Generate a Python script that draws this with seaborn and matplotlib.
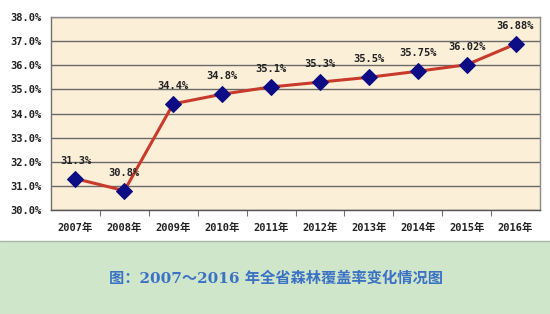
import matplotlib
matplotlib.use("Agg")
import matplotlib.pyplot as plt
import seaborn as sns
import pandas as pd
from matplotlib.patches import Rectangle

years = ["2007年", "2008年", "2009年", "2010年", "2011年",
         "2012年", "2013年", "2014年", "2015年", "2016年"]
coverage = [31.3, 30.8, 34.4, 34.8, 35.1, 35.3, 35.5, 35.75, 36.02, 36.88]
labels = ["31.3%", "30.8%", "34.4%", "34.8%", "35.1%",
          "35.3%", "35.5%", "35.75%", "36.02%", "36.88%"]
yticks = [30, 31, 32, 33, 34, 35, 36, 37, 38]
title = "图：2007～2016 年全省森林覆盖率变化情况图"

sns.set_theme(style="white")
plt.rcParams['font.family'] = ['DejaVu Sans Mono', 'Noto Sans CJK SC']

df = pd.DataFrame({"year": years, "coverage": coverage})

fig = plt.figure(figsize=(5.5, 3.14), dpi=100)
fig.patch.set_facecolor("white")
# green band at bottom
fig.patches.append(Rectangle((0, 0), 1, 73 / 314, transform=fig.transFigure,
                             facecolor="#cfe6cb", edgecolor="none", zorder=0))
fig.lines.append(plt.Line2D([0, 1], [73 / 314, 73 / 314], transform=fig.transFigure,
                            color="#a8b8a8", lw=1.0))

ax = fig.add_axes([51 / 550, 1 - 210 / 314, 489 / 550, 193 / 314])
ax.set_facecolor("#fcefd8")

sns.lineplot(data=df, x="year", y="coverage", ax=ax, sort=False,
             color="#c83a2c", lw=2.2, marker="D", markersize=8,
             markerfacecolor="#0c0c84", markeredgecolor="#0c0c84", zorder=3)

ax.set_xlim(-0.5, len(years) - 0.5)
ax.set_ylim(30, 38)
ax.set_yticks(yticks)
ax.set_yticklabels([f"{v:.1f}%" for v in yticks], fontsize=7.5, fontweight="bold",
                   color="#222222")
ax.set_xticks(range(len(years)))
ax.set_xticklabels(years, fontsize=7.5, fontweight="bold", color="#222222")
ax.set_xticks([i + 0.5 for i in range(len(years) - 1)], minor=True)
ax.tick_params(axis="x", which="major", length=0, pad=9)
ax.tick_params(axis="x", which="minor", length=4, width=0.8, color="#707070",
               direction="out", bottom=True)
ax.tick_params(axis="y", length=0, pad=7)
ax.set_xlabel("")
ax.set_ylabel("")
ax.grid(axis="y", color="#6a6a6a", lw=1.0)
ax.set_axisbelow(True)
for s in ax.spines.values():
    s.set_color("#8a8a8a")
    s.set_linewidth(1.0)
ax.spines["left"].set_color("#707070")
ax.spines["bottom"].set_color("#555555")

for i, (v, t) in enumerate(zip(coverage, labels)):
    ax.annotate(t, (i, v), xytext=(0, 18), textcoords="offset pixels",
                ha="center", va="center", fontsize=7.5, fontweight="bold",
                color="#222222")

fig.text(276 / 550, 1 - 279 / 314, title, ha="center", va="center",
         fontsize=11, fontweight="bold", color="#3b72c4",
         family=["DejaVu Serif", "Noto Sans CJK SC"])

fig.savefig("out.png", dpi=100)
